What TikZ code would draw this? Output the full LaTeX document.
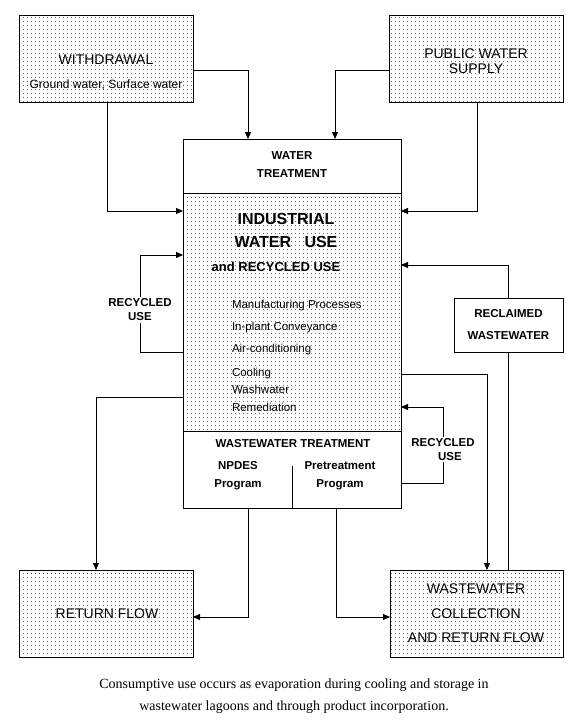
\documentclass[tikz,border=0pt]{standalone}
\usepackage{fontspec}
\setmainfont{Liberation Serif}
\setsansfont{Liberation Sans}
\usetikzlibrary{arrows.meta,patterns.meta}
\begin{document}
\begin{tikzpicture}[x=1pt,y=-1pt,
  every node/.style={inner sep=0pt, outer sep=0pt},
  dotbox/.style={draw, line width=0.9pt, pattern={Dots[distance=4pt,radius=0.55pt]}},
  plainbox/.style={draw, line width=0.9pt, fill=white},
  conn/.style={line width=0.9pt},
  arr/.style={conn, -{Triangle[length=7pt,width=6pt]}},
  bigtxt/.style={font=\sffamily\fontsize{14}{15}\selectfont, align=center},
  boldtxt/.style={font=\sffamily\bfseries\fontsize{11.5}{14}\selectfont, align=center},
  listitem/.style={font=\sffamily\fontsize{11.5}{14}\selectfont, anchor=west, text height=8.2pt, text depth=0pt},
  labelbg/.style={fill=white, inner sep=1.5pt}
]
\useasboundingbox (0,0) rectangle (576,721);

% boxes
\node[dotbox, minimum width=174pt, minimum height=87pt] (withdrawal) at (106,58.5) {};
\node[dotbox, minimum width=174pt, minimum height=87pt] (public) at (476,58.5) {};
\node[plainbox, minimum width=218pt, minimum height=54pt] (wtreat) at (292,166) {};
\node[dotbox, minimum width=218pt, minimum height=238pt] (industrial) at (292,312) {};
\node[plainbox, minimum width=218pt, minimum height=77pt] (wwt) at (292,469.5) {};
\node[plainbox, minimum width=109pt, minimum height=54pt] (reclaimed) at (508.5,325) {};
\node[dotbox, minimum width=174pt, minimum height=87pt] (returnflow) at (106,613.5) {};
\node[dotbox, minimum width=173pt, minimum height=87pt] (collection) at (476.5,613.5) {};

% divider in wastewater treatment
\coordinate (divtop) at (292,466);
\draw[conn] (divtop) -- (divtop |- wwt.south);

% texts
\node[font=\sffamily\fontsize{14}{15}\selectfont] (twd) at (106,60) {WITHDRAWAL};
\node[font=\sffamily\fontsize{12}{14}\selectfont] (tgw) at (106,85) {Ground water, Surface water};
\node[bigtxt] (tpub) at (476,61.5) {PUBLIC WATER\\SUPPLY};
\node[boldtxt, font=\sffamily\bfseries\fontsize{11.5}{18}\selectfont] (twt) at (292,165) {WATER\\TREATMENT};
\node[font=\sffamily\bfseries\fontsize{16}{23}\selectfont, align=center] (tind) at (286,230.5) {INDUSTRIAL\\WATER\ \ \ USE};
\node[font=\sffamily\bfseries\fontsize{13}{15}\selectfont] (trec) at (276,267) {and RECYCLED USE};
\node[listitem] (l1) at (232,304) {Manufacturing Processes};
\node[listitem] (l2) at (232,326) {In-plant Conveyance};
\node[listitem] (l3) at (232,348) {Air-conditioning};
\node[listitem] (l4) at (232,372) {Cooling};
\node[listitem] (l5) at (232,389) {Washwater};
\node[listitem] (l6) at (232,407) {Remediation};
\node[boldtxt] (twwt) at (293,444) {WASTEWATER TREATMENT};
\node[boldtxt, font=\sffamily\bfseries\fontsize{11.5}{18}\selectfont] (tnp) at (238,476) {NPDES\\Program};
\node[boldtxt, font=\sffamily\bfseries\fontsize{11.5}{18}\selectfont] (tpre) at (340,476) {Pretreatment\\Program};
\node[boldtxt, font=\sffamily\bfseries\fontsize{11.5}{22}\selectfont] (trcl) at (508.5,325) {RECLAIMED\\WASTEWATER};
\node[font=\sffamily\fontsize{14}{15}\selectfont] (trf) at (107,614) {RETURN FLOW};
\node[bigtxt, font=\sffamily\fontsize{14}{24.5}\selectfont] (tcol) at (476,613.5) {WASTEWATER\\COLLECTION\\AND RETURN FLOW};
\node[font=\rmfamily\fontsize{14}{22}\selectfont, align=center] (cap) at (294,696)
  {Consumptive use occurs as evaporation during cooling and storage in\\wastewater lagoons and through product incorporation.};

% connectors
\draw[arr] ([yshift=-11.5pt]withdrawal.east) -| ([xshift=-44pt]wtreat.north);
\draw[arr] ([yshift=-11.5pt]public.west) -| ([xshift=43pt]wtreat.north);
\draw[arr] ([xshift=1pt]withdrawal.south) |- ([yshift=101pt]industrial.west);
\draw[arr] ([xshift=1pt]public.south) |- ([yshift=101pt]industrial.east);

\coordinate (lr) at (140,255);
\draw[arr] ([yshift=-40pt]industrial.west) -| (lr) -- ([yshift=57pt]industrial.west);
\node[boldtxt, labelbg] (lrl) at (140,310) {RECYCLED\\USE};

\draw[arr] ([yshift=-85pt]industrial.west) -| ([xshift=-10pt]returnflow.north);
\draw[arr] ([xshift=-44pt]wwt.south) |- ([yshift=-3.5pt]returnflow.east);
\draw[arr] ([xshift=44pt]wwt.south) |- ([yshift=-3.5pt]collection.west);
\draw[arr] ([yshift=-62pt]industrial.east) -| ([xshift=10.5pt]collection.north);
\draw[conn] (reclaimed.south |- collection.north) -- (reclaimed.south);
\draw[arr] (reclaimed.north) |- ([yshift=47pt]industrial.east);

\coordinate (rr) at (443,407);
\draw[arr] ([yshift=-13.5pt]wwt.east) -| (rr) -- ([yshift=-95pt]industrial.east);
\node[boldtxt, labelbg] (rrl) at (443,449.5) {RECYCLED\\\hspace*{1.2em}USE};
\end{tikzpicture}
\end{document}
